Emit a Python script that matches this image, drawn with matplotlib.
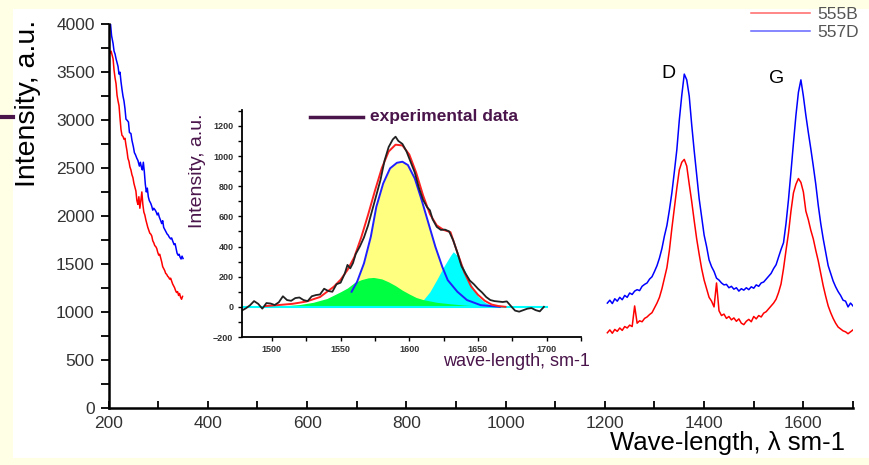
"""
Raman spectra of samples 555B and 557D with G-band peak fitting inset.
"""

import matplotlib
matplotlib.use('Agg')
import matplotlib.pyplot as plt
from matplotlib.patches import Rectangle
from matplotlib.lines import Line2D
from matplotlib.ticker import MultipleLocator

plt.rcParams['font.family'] = ['Liberation Sans', 'DejaVu Sans']

PURPLE = '#4a154b'
CREAM = '#ffffe6'

# Low wavenumber tail, sample 557D (blue) and 555B (red)
blue_low_x = [204, 206, 209, 211, 213, 215, 217, 219, 221, 223, 225, 227, 229, 231, 233, 235, 237, 240,
              242, 245, 247, 250, 252, 254, 257, 259, 262, 264, 266, 268, 270, 272, 274, 276, 278, 280,
              282, 285, 287, 289, 291, 294, 296, 298, 300, 302, 305, 307, 309, 311, 314, 316, 318, 320,
              322, 325, 327, 329, 332, 334, 336, 338, 340, 342, 344, 346, 348, 350]
blue_low_y = [3995, 3880, 3800, 3720, 3690, 3640, 3600, 3560, 3480, 3500, 3400, 3320, 3250, 3200, 3120,
              3010, 3000, 2980, 2870, 2860, 2790, 2720, 2660, 2640, 2600, 2580, 2520, 2560, 2510, 2480,
              2560, 2460, 2330, 2250, 2290, 2200, 2160, 2130, 2100, 2060, 2080, 2060, 2040, 2010, 2030,
              1990, 1950, 1920, 1950, 1880, 1850, 1830, 1810, 1800, 1780, 1760, 1770, 1740, 1700, 1710,
              1660, 1610, 1590, 1600, 1570, 1550, 1580, 1555]

red_low_x = [203, 205, 207, 209, 211, 213, 215, 217, 219, 221, 223, 225, 227, 229, 231, 233, 235, 237,
             239, 241, 243, 245, 247, 249, 251, 253, 255, 257, 259, 261, 263, 265, 267, 269, 271, 273,
             275, 277, 279, 281, 283, 285, 287, 289, 291, 293, 295, 297, 299, 301, 303, 305, 307, 309,
             311, 313, 315, 317, 319, 321, 323, 325, 327, 329, 331, 333, 335, 337, 339, 341, 343, 345,
             347, 349]
red_low_y = [3700, 3720, 3680, 3640, 3520, 3440, 3380, 3260, 3200, 3150, 3020, 2900, 2840, 2830, 2800,
             2810, 2740, 2680, 2600, 2570, 2510, 2480, 2430, 2400, 2340, 2300, 2260, 2160, 2120, 2200,
             2080, 2160, 2250, 2120, 2040, 2010, 1960, 1920, 1880, 1850, 1820, 1810, 1790, 1740, 1720,
             1690, 1680, 1660, 1620, 1590, 1600, 1560, 1520, 1470, 1450, 1430, 1400, 1390, 1370, 1360,
             1340, 1350, 1320, 1290, 1270, 1250, 1220, 1200, 1210, 1170, 1190, 1150, 1130, 1160]

# D and G band region
high_x = list(range(1205, 1705, 5))
blue_high_y = [1090, 1120, 1085, 1135, 1110, 1150, 1125, 1170, 1150, 1195, 1180, 1215, 1230, 1220, 1265,
               1285, 1300, 1340, 1365, 1420, 1480, 1560, 1660, 1790, 1900, 2060, 2240, 2460, 2690, 3000,
               3260, 3480, 3420, 3250, 2950, 2680, 2430, 2180, 1990, 1800, 1680, 1540, 1470, 1420, 1350,
               1330, 1300, 1280, 1285, 1250, 1265, 1235, 1250, 1215, 1240, 1225, 1250, 1230, 1260, 1245,
               1280, 1265, 1300, 1310, 1340, 1370, 1400, 1450, 1490, 1570, 1650, 1720, 1920, 2170, 2460,
               2760, 3050, 3290, 3420, 3250, 3050, 2870, 2700, 2520, 2330, 2110, 1920, 1760, 1620, 1480,
               1400, 1320, 1260, 1210, 1170, 1120, 1110, 1050, 1090, 1060]
red_high_y = [780, 810, 775, 815, 795, 830, 805, 845, 830, 860, 845, 1060, 880, 905, 895, 930, 945, 970,
              990, 1040, 1090, 1150, 1240, 1350, 1460, 1640, 1870, 2080, 2290, 2480, 2560, 2590, 2520,
              2330, 2150, 1950, 1760, 1600, 1450, 1330, 1240, 1150, 1110, 1050, 1300, 1010, 960, 975, 930,
              950, 915, 935, 900, 925, 880, 865, 900, 920, 895, 950, 925, 960, 945, 985, 1000, 1030, 1060,
              1090, 1130, 1200, 1290, 1450, 1640, 1820, 2050, 2240, 2330, 2390, 2350, 2250, 2050, 1960,
              1850, 1760, 1640, 1530, 1400, 1270, 1160, 1060, 990, 930, 880, 840, 820, 800, 790, 770, 790,
              810]

# Inset: G band with fitted components
exp_x = [1478, 1481, 1484, 1487, 1490, 1493, 1496, 1499, 1502, 1505, 1508, 1511, 1514, 1517, 1520, 1523,
         1526, 1529, 1532, 1535, 1538, 1541, 1544, 1547, 1550, 1553, 1555, 1557, 1559, 1561, 1564, 1567,
         1570, 1573, 1576, 1579, 1582, 1585, 1588, 1590, 1592, 1595, 1598, 1601, 1604, 1607, 1610, 1613,
         1615, 1617, 1620, 1623, 1626, 1629, 1632, 1635, 1638, 1641, 1644, 1647, 1650, 1653, 1656, 1659,
         1662, 1665, 1668, 1671, 1674, 1677, 1680, 1683, 1686, 1689, 1692, 1695, 1698]
exp_y = [-25, -10, 10, 38, 20, -12, 25, 22, 12, 30, 70, 45, 40, 58, 62, 45, 38, 70, 78, 82, 120, 105, 100,
         150, 160, 220, 278, 255, 290, 350, 400, 460, 540, 640, 740, 840, 970, 1060, 1110, 1128, 1100, 1080,
         1030, 960, 890, 790, 710, 660, 640, 580, 530, 510, 512, 500, 440, 360, 270, 220, 175, 150, 120, 95,
         65, 45, 38, 35, 32, 36, 5, -25, -32, -22, -12, -8, -22, -30, 0]

fit_x = [1495, 1505, 1515, 1525, 1535, 1545, 1550, 1555, 1560, 1565, 1570, 1575, 1580, 1585, 1590, 1595,
         1600, 1605, 1610, 1615, 1620, 1625, 1630, 1635, 1640, 1645, 1650, 1655, 1660, 1665, 1670]
fit_y = [5, 12, 20, 35, 65, 133, 180, 244, 330, 460, 610, 770, 920, 1030, 1075, 1070, 1010, 890, 740, 615,
         540, 510, 495, 360, 230, 135, 80, 40, 15, 5, 0]

main_x = [1558, 1562, 1567, 1572, 1576, 1581, 1586, 1591, 1595, 1599, 1604, 1609, 1614, 1619, 1624, 1628,
          1635, 1642, 1652, 1666]
main_y = [100, 166, 288, 465, 663, 818, 918, 955, 962, 940, 851, 708, 553, 398, 266, 177, 100, 45, 11, 0]

low_x = [1500, 1510, 1520, 1530, 1540, 1550, 1555, 1560, 1565, 1570, 1574, 1580, 1585, 1590, 1595, 1600,
         1605, 1610, 1620, 1630, 1640, 1650, 1660, 1670]
low_y = [3, 8, 15, 30, 55, 100, 125, 160, 180, 192, 195, 185, 165, 140, 110, 85, 62, 48, 30, 20, 12, 6, 2, 0]

high_band_x = [1600, 1605, 1610, 1615, 1620, 1625, 1630, 1632, 1635, 1640, 1645, 1650, 1655, 1660, 1665, 1670]
high_band_y = [5, 20, 44, 100, 180, 265, 340, 365, 340, 250, 150, 70, 30, 10, 3, 0]

baseline_x = [1478, 1700]
baseline_y = [0, 0]

main_yticks = [0, 500, 1000, 1500, 2000, 2500, 3000, 3500, 4000]
main_xticks = [200, 400, 600, 800, 1000, 1200, 1400, 1600]
inset_yticks = [-200, 0, 200, 400, 600, 800, 1000, 1200]
inset_xticks = [1500, 1550, 1600, 1650, 1700]

# Figure and slide-like background
fig = plt.figure(figsize=(8.69, 4.65), dpi=100, facecolor=CREAM)
fig.patches.append(Rectangle((13 / 869, 7 / 465), 1, 449 / 465, transform=fig.transFigure,
                             facecolor='white', edgecolor='none', zorder=-1))
fig.add_artist(Line2D([0, 13 / 869], [1 - 117 / 465, 1 - 117 / 465], color=PURPLE, lw=3))

# Main spectrum
ax = fig.add_axes([108.6 / 869, 1 - 407.5 / 465, (853 - 108.6) / 869, (407.5 - 24.3) / 465])
ax.plot(red_low_x, red_low_y, color='red', lw=1.1)
ax.plot(blue_low_x, blue_low_y, color='blue', lw=1.1)
ax.plot(high_x, red_high_y, color='red', lw=1.1, label='555B')
ax.plot(high_x, blue_high_y, color='blue', lw=1.1, label='557D')
ax.set_xlim(200, 1700)
ax.set_ylim(0, 4000)
ax.spines['top'].set_visible(False)
ax.spines['right'].set_visible(False)
for s in ['left', 'bottom']:
    ax.spines[s].set_linewidth(1.8)
ax.set_xticks(main_xticks)
ax.set_yticks(main_yticks)
ax.xaxis.set_minor_locator(MultipleLocator(100))
ax.yaxis.set_minor_locator(MultipleLocator(250))
ax.tick_params(axis='y', which='both', direction='out', length=6, width=1.3, labelsize=12.5,
               labelcolor='#333333', pad=4)
ax.tick_params(axis='x', which='both', direction='in', length=5, width=1.3, labelsize=12.5,
               labelcolor='#333333', pad=6)
ax.patch.set_alpha(0)

# band labels
ax.text(1329, 3490, 'D', fontsize=14, ha='center', va='center')
ax.text(1547, 3430, 'G', fontsize=14, ha='center', va='center')

fig.text(28 / 869, 1 - 103 / 465, 'Intensity, a.u.', rotation=90, fontsize=20.5, ha='center', va='center')
fig.text(845 / 869, 1 - 443 / 465, 'Wave-length, \u03bb sm-1', fontsize=18.5, ha='right', va='center')

leg = fig.legend(loc='upper right', bbox_to_anchor=(1.0, 1.008), frameon=False, fontsize=12.5,
                 handlelength=3.4, handletextpad=0.4, labelspacing=0.15, borderaxespad=0.2)
for t in leg.get_texts():
    t.set_color('#555555')
for h in leg.legend_handles:
    h.set_alpha(0.6)

# Inset: G band decomposition
ins = fig.add_axes([241.7 / 869, 1 - 337 / 465, (581 - 241.7) / 869, (337 - 110) / 465])
ins.patch.set_alpha(0)
ins.fill_between(main_x, 0, main_y, color='#ffff80', lw=0)
ins.fill_between(high_band_x, 0, high_band_y, color='#00ffff', lw=0)
ins.fill_between(low_x, 0, low_y, color='#00ff40', lw=0)
ins.plot(baseline_x, baseline_y, color='#00ffff', lw=1.5)
ins.plot(main_x, main_y, color='#2020ff', lw=1.4)
ins.plot(fit_x, fit_y, color='#ff2020', lw=1.4)
ins.plot(exp_x, exp_y, color='#222222', lw=1.3)
ins.set_xlim(1478, 1725)
ins.set_ylim(-200, 1305)
ins.spines['top'].set_visible(False)
ins.spines['right'].set_visible(False)
for s in ['left', 'bottom']:
    ins.spines[s].set_linewidth(1.3)
ins.set_xticks(inset_xticks)
ins.set_yticks(inset_yticks)
ins.xaxis.set_minor_locator(MultipleLocator(25))
ins.yaxis.set_minor_locator(MultipleLocator(100))
ins.tick_params(which='both', direction='out', length=3, width=1, labelsize=6.5, labelcolor='#333333', pad=3)
for t in ins.get_xticklabels() + ins.get_yticklabels():
    t.set_fontweight('bold')

fig.text(198 / 869, 1 - 171 / 465, 'Intensity, a.u.', rotation=90, fontsize=14, color=PURPLE,
         ha='center', va='center')
fig.text(443 / 869, 1 - 362 / 465, 'wave-length, sm-1', fontsize=13, color=PURPLE, ha='left', va='center')
fig.add_artist(Line2D([310 / 869, 363 / 869], [1 - 117 / 465, 1 - 117 / 465], color=PURPLE, lw=2.5))
fig.text(370 / 869, 1 - 117 / 465, 'experimental data', fontsize=12.5, fontweight='bold', color=PURPLE,
         ha='left', va='center')

# Cream band along the bottom edge of the slide
fig.add_artist(Rectangle((0, 0), 1, 7 / 465, transform=fig.transFigure, facecolor=CREAM,
                         edgecolor='none', zorder=10))

plt.savefig('out.png', dpi=100, facecolor=CREAM)
